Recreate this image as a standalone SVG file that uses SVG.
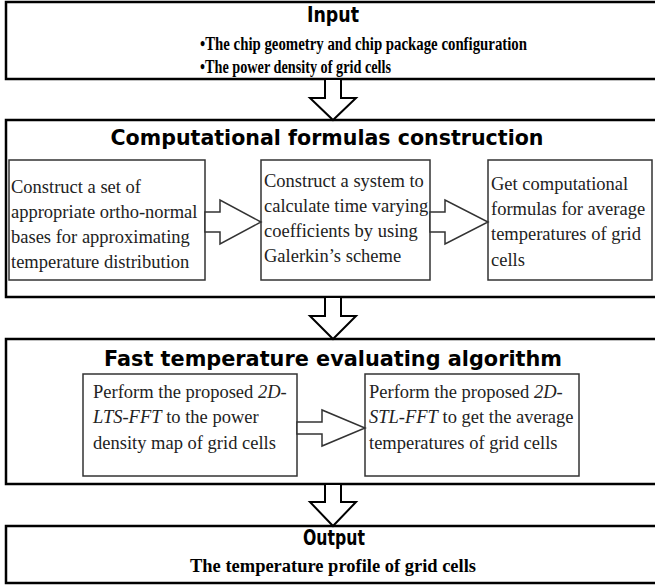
<svg xmlns="http://www.w3.org/2000/svg" width="655" height="588" viewBox="0 0 655 588">
<style>
.outer{fill:#fff;stroke:#000;stroke-width:2.5}
.inner{fill:#fff;stroke:#333;stroke-width:1.5}
.arrow{fill:#fff;stroke:#000;stroke-width:2;stroke-linejoin:miter}
.harrow{fill:#fff;stroke:#333;stroke-width:1.5}
.title{font-family:"DejaVu Sans","Liberation Sans",sans-serif;font-weight:bold;font-size:21px;text-anchor:middle;fill:#000}
.bold{font-family:"Liberation Serif","Times New Roman",serif;font-weight:bold;font-size:18px;fill:#000}
.body{font-family:"Liberation Serif","Times New Roman",serif;font-size:18.5px;fill:#222}
.it{font-style:italic}
</style>
<rect width="655" height="588" fill="#fff"/>
<g id="input">
<rect class="outer" x="6" y="2" width="660" height="77"/>
<text class="title" x="333" y="22" textLength="52" lengthAdjust="spacingAndGlyphs">Input</text>
<text class="bold" x="200" y="50" textLength="327" lengthAdjust="spacingAndGlyphs">•The chip geometry and chip package configuration</text>
<text class="bold" x="200" y="73" textLength="191" lengthAdjust="spacingAndGlyphs">•The power density of grid cells</text>
</g>
<g id="computational">
<rect class="outer" x="6" y="120" width="660" height="177"/>
<text class="title" x="327" y="145" textLength="433" lengthAdjust="spacingAndGlyphs">Computational formulas construction</text>
</g>
<g id="construct-bases">
<rect class="inner" x="9" y="160" width="196" height="120"/>
<text class="body" x="11" y="193">Construct a set of</text>
<text class="body" x="11" y="218">appropriate ortho-normal</text>
<text class="body" x="11" y="243">bases for approximating</text>
<text class="body" x="11" y="268">temperature distribution</text>
</g>
<g id="construct-system">
<rect class="inner" x="261" y="160" width="169" height="120"/>
<text class="body" x="264" y="187">Construct a system to</text>
<text class="body" x="264" y="212">calculate time varying</text>
<text class="body" x="264" y="237">coefficients by using</text>
<text class="body" x="264" y="262">Galerkin’s scheme</text>
</g>
<g id="get-formulas">
<rect class="inner" x="488" y="160" width="164" height="120"/>
<text class="body" x="491" y="190">Get computational</text>
<text class="body" x="491" y="215">formulas for average</text>
<text class="body" x="491" y="240">temperatures of grid</text>
<text class="body" x="491" y="266">cells</text>
</g>
<g id="fast-algorithm">
<rect class="outer" x="6" y="339" width="660" height="145"/>
<text class="title" x="333" y="366" textLength="458" lengthAdjust="spacingAndGlyphs">Fast temperature evaluating algorithm</text>
</g>
<g id="lts-fft">
<rect class="inner" x="83" y="374" width="214" height="102"/>
<text class="body" x="93" y="398">Perform the proposed <tspan class="it">2D-</tspan></text>
<text class="body" x="93" y="423"><tspan class="it">LTS-FFT</tspan> to the power</text>
<text class="body" x="93" y="449">density map of grid cells</text>
</g>
<g id="stl-fft">
<rect class="inner" x="365" y="374" width="214" height="102"/>
<text class="body" x="369" y="398">Perform the proposed <tspan class="it">2D-</tspan></text>
<text class="body" x="369" y="423"><tspan class="it">STL-FFT</tspan> to get the average</text>
<text class="body" x="369" y="449">temperatures of grid cells</text>
</g>
<g id="output">
<rect class="outer" x="6" y="526" width="660" height="57"/>
<text class="title" x="334" y="545" textLength="62" lengthAdjust="spacingAndGlyphs">Output</text>
<text class="bold" x="333" y="572" text-anchor="middle" textLength="286" lengthAdjust="spacingAndGlyphs">The temperature profile of grid cells</text>
</g>
<g id="connectors">
<polygon class="arrow" points="325,79 341,79 341,98 356,98 333,120 310,98 325,98"/>
<polygon class="arrow" points="325,297 341,297 341,316 356,316 333,339 310,316 325,316"/>
<polygon class="arrow" points="325,484 341,484 341,502 356,502 333,526 310,502 325,502"/>
<polygon class="harrow" points="205,212 220,212 220,200 261,222 220,244 220,232 205,232"/>
<polygon class="harrow" points="430,212 445,212 445,200 488,222 445,244 445,232 430,232"/>
<polygon class="harrow" points="297,422 322,422 322,410 365,428 322,446 322,434 297,434"/>
</g>
</svg>
